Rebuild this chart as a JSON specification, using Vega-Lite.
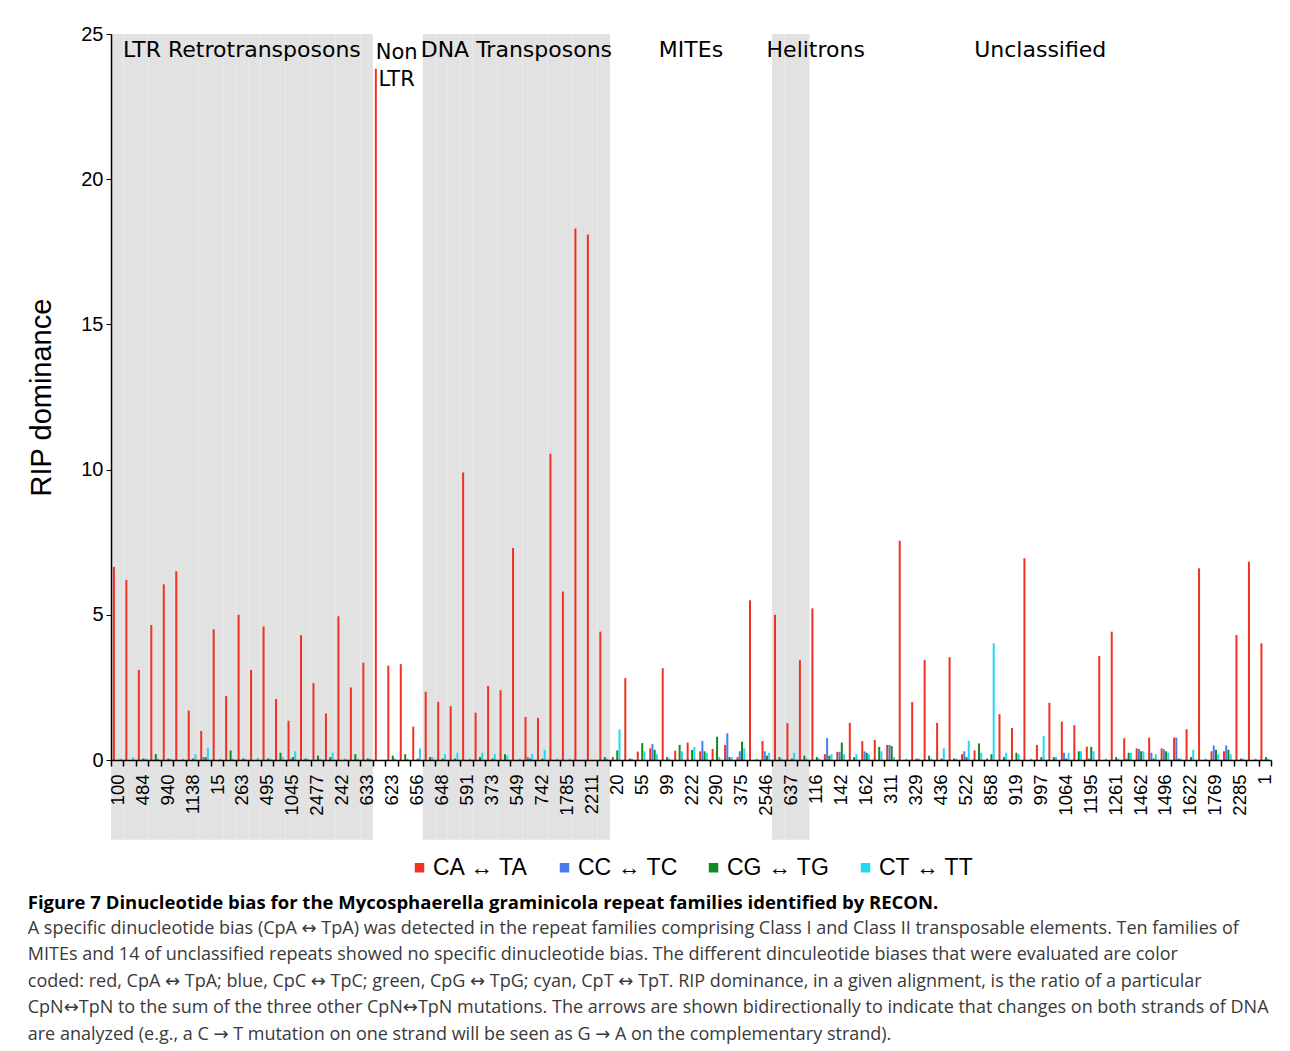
{
  "$schema": "https://vega.github.io/schema/vega-lite/v6.json",
  "width": 1160,
  "height": 726,
  "padding": {"left": 27, "top": 24, "right": 5, "bottom": 5},
  "background": "white",
  "config": {
    "view": {"stroke": null},
    "font": "Liberation Sans",
    "legend": {"layout": {"bottom": {"anchor": "middle"}}}
  },
  "title": {
    "text": "Figure 7 Dinucleotide bias for the Mycosphaerella graminicola repeat families identified by RECON.",
    "subtitle": [
      "A specific dinucleotide bias (CpA ↔ TpA) was detected in the repeat families comprising Class I and Class II transposable elements. Ten families of",
      "MITEs and 14 of unclassified repeats showed no specific dinucleotide bias. The different dinculeotide biases that were evaluated are color",
      "coded: red, CpA ↔ TpA; blue, CpC ↔ TpC; green, CpG ↔ TpG; cyan, CpT ↔ TpT. RIP dominance, in a given alignment, is the ratio of a particular",
      "CpN↔TpN to the sum of the three other CpN↔TpN mutations. The arrows are shown bidirectionally to indicate that changes on both strands of DNA",
      "are analyzed (e.g., a C → T mutation on one strand will be seen as G → A on the complementary strand)."
    ],
    "orient": "bottom",
    "anchor": "start",
    "font": "Open Sans, DejaVu Sans",
    "fontSize": 18.5,
    "fontWeight": "bold",
    "color": "black",
    "subtitleFont": "Open Sans, DejaVu Sans",
    "subtitleFontSize": 18,
    "subtitleColor": "#3a3a3a",
    "subtitleLineHeight": 26.5,
    "subtitlePadding": 7,
    "offset": 14
  },
  "datasets": {
    "families": [
      {"family": "100", "class": "LTR Retrotransposons", "CA ↔ TA": 6.65, "CC ↔ TC": 0, "CG ↔ TG": 0, "CT ↔ TT": 0.05},
      {"family": "u2", "class": "LTR Retrotransposons", "CA ↔ TA": 6.2, "CC ↔ TC": 0, "CG ↔ TG": 0, "CT ↔ TT": 0.1},
      {"family": "484", "class": "LTR Retrotransposons", "CA ↔ TA": 3.1, "CC ↔ TC": 0, "CG ↔ TG": 0.05, "CT ↔ TT": 0.05},
      {"family": "u4", "class": "LTR Retrotransposons", "CA ↔ TA": 4.65, "CC ↔ TC": 0, "CG ↔ TG": 0.2, "CT ↔ TT": 0.05},
      {"family": "940", "class": "LTR Retrotransposons", "CA ↔ TA": 6.05, "CC ↔ TC": 0, "CG ↔ TG": 0.05, "CT ↔ TT": 0.05},
      {"family": "u6", "class": "LTR Retrotransposons", "CA ↔ TA": 6.5, "CC ↔ TC": 0, "CG ↔ TG": 0, "CT ↔ TT": 0.05},
      {"family": "1138", "class": "LTR Retrotransposons", "CA ↔ TA": 1.7, "CC ↔ TC": 0, "CG ↔ TG": 0.05, "CT ↔ TT": 0.2},
      {"family": "u8", "class": "LTR Retrotransposons", "CA ↔ TA": 1.0, "CC ↔ TC": 0.1, "CG ↔ TG": 0.1, "CT ↔ TT": 0.42},
      {"family": "15", "class": "LTR Retrotransposons", "CA ↔ TA": 4.5, "CC ↔ TC": 0, "CG ↔ TG": 0, "CT ↔ TT": 0.05},
      {"family": "u10", "class": "LTR Retrotransposons", "CA ↔ TA": 2.2, "CC ↔ TC": 0, "CG ↔ TG": 0.33, "CT ↔ TT": 0.05},
      {"family": "263", "class": "LTR Retrotransposons", "CA ↔ TA": 5.0, "CC ↔ TC": 0, "CG ↔ TG": 0.05, "CT ↔ TT": 0.05},
      {"family": "u12", "class": "LTR Retrotransposons", "CA ↔ TA": 3.1, "CC ↔ TC": 0, "CG ↔ TG": 0, "CT ↔ TT": 0.08},
      {"family": "495", "class": "LTR Retrotransposons", "CA ↔ TA": 4.6, "CC ↔ TC": 0, "CG ↔ TG": 0.05, "CT ↔ TT": 0.05},
      {"family": "u14", "class": "LTR Retrotransposons", "CA ↔ TA": 2.1, "CC ↔ TC": 0, "CG ↔ TG": 0.25, "CT ↔ TT": 0.1},
      {"family": "1045", "class": "LTR Retrotransposons", "CA ↔ TA": 1.35, "CC ↔ TC": 0.05, "CG ↔ TG": 0.1, "CT ↔ TT": 0.3},
      {"family": "u16", "class": "LTR Retrotransposons", "CA ↔ TA": 4.3, "CC ↔ TC": 0, "CG ↔ TG": 0.05, "CT ↔ TT": 0.05},
      {"family": "2477", "class": "LTR Retrotransposons", "CA ↔ TA": 2.65, "CC ↔ TC": 0, "CG ↔ TG": 0.15, "CT ↔ TT": 0.05},
      {"family": "u18", "class": "LTR Retrotransposons", "CA ↔ TA": 1.6, "CC ↔ TC": 0, "CG ↔ TG": 0.1, "CT ↔ TT": 0.25},
      {"family": "242", "class": "LTR Retrotransposons", "CA ↔ TA": 4.95, "CC ↔ TC": 0, "CG ↔ TG": 0, "CT ↔ TT": 0.05},
      {"family": "u20", "class": "LTR Retrotransposons", "CA ↔ TA": 2.5, "CC ↔ TC": 0, "CG ↔ TG": 0.2, "CT ↔ TT": 0.05},
      {"family": "633", "class": "LTR Retrotransposons", "CA ↔ TA": 3.35, "CC ↔ TC": 0, "CG ↔ TG": 0.05, "CT ↔ TT": 0.05},
      {"family": "u22", "class": "Non LTR", "CA ↔ TA": 23.8, "CC ↔ TC": 0, "CG ↔ TG": 0, "CT ↔ TT": 0},
      {"family": "623", "class": "Non LTR", "CA ↔ TA": 3.25, "CC ↔ TC": 0, "CG ↔ TG": 0.15, "CT ↔ TT": 0.05},
      {"family": "u24", "class": "Non LTR", "CA ↔ TA": 3.3, "CC ↔ TC": 0, "CG ↔ TG": 0.2, "CT ↔ TT": 0.05},
      {"family": "656", "class": "Non LTR", "CA ↔ TA": 1.15, "CC ↔ TC": 0, "CG ↔ TG": 0.05, "CT ↔ TT": 0.4},
      {"family": "u26", "class": "DNA Transposons", "CA ↔ TA": 2.35, "CC ↔ TC": 0, "CG ↔ TG": 0.1, "CT ↔ TT": 0.1},
      {"family": "648", "class": "DNA Transposons", "CA ↔ TA": 2.0, "CC ↔ TC": 0, "CG ↔ TG": 0.05, "CT ↔ TT": 0.2},
      {"family": "u28", "class": "DNA Transposons", "CA ↔ TA": 1.85, "CC ↔ TC": 0, "CG ↔ TG": 0.05, "CT ↔ TT": 0.25},
      {"family": "591", "class": "DNA Transposons", "CA ↔ TA": 9.9, "CC ↔ TC": 0, "CG ↔ TG": 0, "CT ↔ TT": 0.05},
      {"family": "u30", "class": "DNA Transposons", "CA ↔ TA": 1.63, "CC ↔ TC": 0, "CG ↔ TG": 0.1, "CT ↔ TT": 0.25},
      {"family": "373", "class": "DNA Transposons", "CA ↔ TA": 2.55, "CC ↔ TC": 0, "CG ↔ TG": 0.05, "CT ↔ TT": 0.2},
      {"family": "u32", "class": "DNA Transposons", "CA ↔ TA": 2.4, "CC ↔ TC": 0, "CG ↔ TG": 0.2, "CT ↔ TT": 0.15},
      {"family": "549", "class": "DNA Transposons", "CA ↔ TA": 7.3, "CC ↔ TC": 0, "CG ↔ TG": 0, "CT ↔ TT": 0.05},
      {"family": "u34", "class": "DNA Transposons", "CA ↔ TA": 1.48, "CC ↔ TC": 0.1, "CG ↔ TG": 0.05, "CT ↔ TT": 0.2},
      {"family": "742", "class": "DNA Transposons", "CA ↔ TA": 1.45, "CC ↔ TC": 0, "CG ↔ TG": 0.05, "CT ↔ TT": 0.35},
      {"family": "u36", "class": "DNA Transposons", "CA ↔ TA": 10.55, "CC ↔ TC": 0, "CG ↔ TG": 0, "CT ↔ TT": 0.05},
      {"family": "1785", "class": "DNA Transposons", "CA ↔ TA": 5.8, "CC ↔ TC": 0, "CG ↔ TG": 0, "CT ↔ TT": 0.05},
      {"family": "u38", "class": "DNA Transposons", "CA ↔ TA": 18.3, "CC ↔ TC": 0, "CG ↔ TG": 0, "CT ↔ TT": 0},
      {"family": "2211", "class": "DNA Transposons", "CA ↔ TA": 18.1, "CC ↔ TC": 0, "CG ↔ TG": 0, "CT ↔ TT": 0},
      {"family": "u40", "class": "DNA Transposons", "CA ↔ TA": 4.42, "CC ↔ TC": 0, "CG ↔ TG": 0.1, "CT ↔ TT": 0.05},
      {"family": "20", "class": "MITEs", "CA ↔ TA": 0.1, "CC ↔ TC": 0, "CG ↔ TG": 0.33, "CT ↔ TT": 1.05},
      {"family": "u42", "class": "MITEs", "CA ↔ TA": 2.82, "CC ↔ TC": 0, "CG ↔ TG": 0.05, "CT ↔ TT": 0.05},
      {"family": "55", "class": "MITEs", "CA ↔ TA": 0.29, "CC ↔ TC": 0, "CG ↔ TG": 0.58, "CT ↔ TT": 0.3},
      {"family": "u44", "class": "MITEs", "CA ↔ TA": 0.4, "CC ↔ TC": 0.55, "CG ↔ TG": 0.35, "CT ↔ TT": 0.2},
      {"family": "99", "class": "MITEs", "CA ↔ TA": 3.16, "CC ↔ TC": 0, "CG ↔ TG": 0.1, "CT ↔ TT": 0.05},
      {"family": "u46", "class": "MITEs", "CA ↔ TA": 0.32, "CC ↔ TC": 0, "CG ↔ TG": 0.52, "CT ↔ TT": 0.3},
      {"family": "222", "class": "MITEs", "CA ↔ TA": 0.6, "CC ↔ TC": 0, "CG ↔ TG": 0.35, "CT ↔ TT": 0.45},
      {"family": "u48", "class": "MITEs", "CA ↔ TA": 0.3, "CC ↔ TC": 0.66, "CG ↔ TG": 0.3, "CT ↔ TT": 0.25},
      {"family": "290", "class": "MITEs", "CA ↔ TA": 0.38, "CC ↔ TC": 0, "CG ↔ TG": 0.8, "CT ↔ TT": 0.1},
      {"family": "u50", "class": "MITEs", "CA ↔ TA": 0.52, "CC ↔ TC": 0.92, "CG ↔ TG": 0.1, "CT ↔ TT": 0.1},
      {"family": "375", "class": "MITEs", "CA ↔ TA": 0.1, "CC ↔ TC": 0.3, "CG ↔ TG": 0.63, "CT ↔ TT": 0.4},
      {"family": "u52", "class": "MITEs", "CA ↔ TA": 5.5, "CC ↔ TC": 0, "CG ↔ TG": 0, "CT ↔ TT": 0.05},
      {"family": "2546", "class": "MITEs", "CA ↔ TA": 0.65, "CC ↔ TC": 0.3, "CG ↔ TG": 0.15, "CT ↔ TT": 0.25},
      {"family": "u54", "class": "Helitrons", "CA ↔ TA": 5.0, "CC ↔ TC": 0, "CG ↔ TG": 0.1, "CT ↔ TT": 0.05},
      {"family": "637", "class": "Helitrons", "CA ↔ TA": 1.27, "CC ↔ TC": 0, "CG ↔ TG": 0.05, "CT ↔ TT": 0.25},
      {"family": "u56", "class": "Helitrons", "CA ↔ TA": 3.44, "CC ↔ TC": 0, "CG ↔ TG": 0.15, "CT ↔ TT": 0.05},
      {"family": "116", "class": "Unclassified", "CA ↔ TA": 5.22, "CC ↔ TC": 0, "CG ↔ TG": 0.1, "CT ↔ TT": 0.05},
      {"family": "u58", "class": "Unclassified", "CA ↔ TA": 0.2, "CC ↔ TC": 0.75, "CG ↔ TG": 0.15, "CT ↔ TT": 0.2},
      {"family": "142", "class": "Unclassified", "CA ↔ TA": 0.28, "CC ↔ TC": 0.28, "CG ↔ TG": 0.6, "CT ↔ TT": 0.2},
      {"family": "u60", "class": "Unclassified", "CA ↔ TA": 1.28, "CC ↔ TC": 0, "CG ↔ TG": 0.1, "CT ↔ TT": 0.2},
      {"family": "162", "class": "Unclassified", "CA ↔ TA": 0.65, "CC ↔ TC": 0.3, "CG ↔ TG": 0.25, "CT ↔ TT": 0.2},
      {"family": "u62", "class": "Unclassified", "CA ↔ TA": 0.69, "CC ↔ TC": 0, "CG ↔ TG": 0.45, "CT ↔ TT": 0.3},
      {"family": "311", "class": "Unclassified", "CA ↔ TA": 0.52, "CC ↔ TC": 0.52, "CG ↔ TG": 0.48, "CT ↔ TT": 0.1},
      {"family": "u64", "class": "Unclassified", "CA ↔ TA": 7.55, "CC ↔ TC": 0, "CG ↔ TG": 0, "CT ↔ TT": 0.05},
      {"family": "329", "class": "Unclassified", "CA ↔ TA": 2.0, "CC ↔ TC": 0, "CG ↔ TG": 0.05, "CT ↔ TT": 0.05},
      {"family": "u66", "class": "Unclassified", "CA ↔ TA": 3.44, "CC ↔ TC": 0, "CG ↔ TG": 0.15, "CT ↔ TT": 0.05},
      {"family": "436", "class": "Unclassified", "CA ↔ TA": 1.28, "CC ↔ TC": 0, "CG ↔ TG": 0.05, "CT ↔ TT": 0.4},
      {"family": "u68", "class": "Unclassified", "CA ↔ TA": 3.54, "CC ↔ TC": 0, "CG ↔ TG": 0.05, "CT ↔ TT": 0.05},
      {"family": "522", "class": "Unclassified", "CA ↔ TA": 0.2, "CC ↔ TC": 0.3, "CG ↔ TG": 0.1, "CT ↔ TT": 0.66},
      {"family": "u70", "class": "Unclassified", "CA ↔ TA": 0.33, "CC ↔ TC": 0, "CG ↔ TG": 0.57, "CT ↔ TT": 0.25},
      {"family": "858", "class": "Unclassified", "CA ↔ TA": 0.05, "CC ↔ TC": 0, "CG ↔ TG": 0.2, "CT ↔ TT": 4.02},
      {"family": "u72", "class": "Unclassified", "CA ↔ TA": 1.58, "CC ↔ TC": 0, "CG ↔ TG": 0.1, "CT ↔ TT": 0.25},
      {"family": "919", "class": "Unclassified", "CA ↔ TA": 1.1, "CC ↔ TC": 0, "CG ↔ TG": 0.25, "CT ↔ TT": 0.2},
      {"family": "u74", "class": "Unclassified", "CA ↔ TA": 6.95, "CC ↔ TC": 0, "CG ↔ TG": 0, "CT ↔ TT": 0.05},
      {"family": "997", "class": "Unclassified", "CA ↔ TA": 0.52, "CC ↔ TC": 0, "CG ↔ TG": 0.1, "CT ↔ TT": 0.83},
      {"family": "u76", "class": "Unclassified", "CA ↔ TA": 1.97, "CC ↔ TC": 0, "CG ↔ TG": 0.1, "CT ↔ TT": 0.1},
      {"family": "1064", "class": "Unclassified", "CA ↔ TA": 1.32, "CC ↔ TC": 0.25, "CG ↔ TG": 0.05, "CT ↔ TT": 0.25},
      {"family": "u78", "class": "Unclassified", "CA ↔ TA": 1.2, "CC ↔ TC": 0, "CG ↔ TG": 0.3, "CT ↔ TT": 0.3},
      {"family": "1195", "class": "Unclassified", "CA ↔ TA": 0.46, "CC ↔ TC": 0.05, "CG ↔ TG": 0.45, "CT ↔ TT": 0.3},
      {"family": "u80", "class": "Unclassified", "CA ↔ TA": 3.58, "CC ↔ TC": 0, "CG ↔ TG": 0, "CT ↔ TT": 0.05},
      {"family": "1261", "class": "Unclassified", "CA ↔ TA": 4.42, "CC ↔ TC": 0, "CG ↔ TG": 0.1, "CT ↔ TT": 0.05},
      {"family": "u82", "class": "Unclassified", "CA ↔ TA": 0.75, "CC ↔ TC": 0.05, "CG ↔ TG": 0.25, "CT ↔ TT": 0.25},
      {"family": "1462", "class": "Unclassified", "CA ↔ TA": 0.4, "CC ↔ TC": 0.38, "CG ↔ TG": 0.3, "CT ↔ TT": 0.3},
      {"family": "u84", "class": "Unclassified", "CA ↔ TA": 0.77, "CC ↔ TC": 0.25, "CG ↔ TG": 0.05, "CT ↔ TT": 0.2},
      {"family": "1496", "class": "Unclassified", "CA ↔ TA": 0.4, "CC ↔ TC": 0.37, "CG ↔ TG": 0.3, "CT ↔ TT": 0.25},
      {"family": "u86", "class": "Unclassified", "CA ↔ TA": 0.77, "CC ↔ TC": 0.77, "CG ↔ TG": 0.05, "CT ↔ TT": 0.05},
      {"family": "1622", "class": "Unclassified", "CA ↔ TA": 1.06, "CC ↔ TC": 0, "CG ↔ TG": 0.1, "CT ↔ TT": 0.35},
      {"family": "u88", "class": "Unclassified", "CA ↔ TA": 6.6, "CC ↔ TC": 0, "CG ↔ TG": 0, "CT ↔ TT": 0.05},
      {"family": "1769", "class": "Unclassified", "CA ↔ TA": 0.3, "CC ↔ TC": 0.5, "CG ↔ TG": 0.35, "CT ↔ TT": 0.2},
      {"family": "u90", "class": "Unclassified", "CA ↔ TA": 0.3, "CC ↔ TC": 0.5, "CG ↔ TG": 0.35, "CT ↔ TT": 0.2},
      {"family": "2285", "class": "Unclassified", "CA ↔ TA": 4.3, "CC ↔ TC": 0, "CG ↔ TG": 0.05, "CT ↔ TT": 0.05},
      {"family": "u92", "class": "Unclassified", "CA ↔ TA": 6.83, "CC ↔ TC": 0, "CG ↔ TG": 0, "CT ↔ TT": 0.05},
      {"family": "1", "class": "Unclassified", "CA ↔ TA": 4.02, "CC ↔ TC": 0, "CG ↔ TG": 0.1, "CT ↔ TT": 0.05}
    ],
    "sections": [
      {"section": "LTR Retrotransposons", "family": "263"},
      {"section": "Non\nLTR", "family": "623"},
      {"section": "DNA Transposons", "family": "549"},
      {"section": "MITEs", "family": "222"},
      {"section": "Helitrons", "family": "116"},
      {"section": "Unclassified", "family": "997"}
    ]
  },
  "data": {"name": "families"},
  "layer": [
    {
      "mark": {"type": "bar", "color": "#e2e2e2"},
      "encoding": {
        "x": {
          "field": "family",
          "type": "nominal",
          "sort": null,
          "scale": {"paddingInner": 0, "paddingOuter": 0},
          "axis": {
            "title": null,
            "labelAngle": -90,
            "labelFontSize": 18.5,
            "labelFont": "Liberation Sans",
            "labelColor": "black",
            "labelPadding": 8,
            "labelOverlap": false,
            "labelExpr": "test(/^u/, datum.value) ? '' : datum.value",
            "tickBand": "extent",
            "tickColor": "black",
            "tickSize": 6,
            "tickWidth": 1.5,
            "domainColor": "black",
            "domainWidth": 1.5,
            "zindex": 1
          }
        },
        "y": {
          "datum": 25,
          "type": "quantitative",
          "scale": {"domain": [0, 25], "nice": false},
          "axis": {
            "values": [0, 5, 10, 15, 20, 25],
            "title": "RIP dominance",
            "titleFont": "Liberation Sans",
            "titleFontSize": 29,
            "titleFontWeight": "normal",
            "titleColor": "black",
            "titlePadding": 24,
            "labelFont": "Liberation Sans",
            "labelFontSize": 20,
            "labelColor": "black",
            "labelPadding": 3,
            "tickColor": "black",
            "tickSize": 5,
            "domainColor": "black",
            "domainWidth": 1.5,
            "grid": false,
            "zindex": 1
          }
        },
        "y2": {"datum": -2.75},
        "opacity": {
          "condition": {"test": "datum['class'] === 'LTR Retrotransposons' || datum['class'] === 'DNA Transposons' || datum['class'] === 'Helitrons'", "value": 1},
          "value": 0
        }
      }
    },
    {
      "transform": [{"fold": ["CA ↔ TA", "CC ↔ TC", "CG ↔ TG", "CT ↔ TT"], "as": ["pair", "rip"]}],
      "mark": {"type": "bar"},
      "encoding": {
        "x": {"field": "family", "type": "nominal", "sort": null},
        "xOffset": {"field": "pair", "type": "nominal", "sort": null, "scale": {"paddingInner": 0.1, "paddingOuter": 0.85}},
        "y": {"field": "rip", "type": "quantitative"},
        "color": {
          "field": "pair",
          "type": "nominal",
          "sort": null,
          "scale": {"domain": ["CA ↔ TA", "CC ↔ TC", "CG ↔ TG", "CT ↔ TT"], "range": ["#ee3326", "#4a7cf0", "#14891f", "#22d8f3"]},
          "legend": {
            "orient": "bottom",
            "direction": "horizontal",
            "title": null,
            "symbolType": "square",
            "symbolSize": 90,
            "symbolStrokeWidth": 0,
            "labelFont": "Liberation Sans",
            "labelFontSize": 23,
            "labelColor": "black",
            "labelOffset": 2,
            "columnPadding": 24,
            "offset": 40
          }
        }
      }
    },
    {
      "data": {"name": "sections"},
      "transform": [{"filter": "datum.section !== 'Non\\nLTR'"}],
      "mark": {"type": "text", "font": "DejaVu Sans", "fontSize": 22, "baseline": "top", "align": "center", "dy": 6, "color": "black"},
      "encoding": {
        "x": {"field": "family", "type": "nominal", "sort": null},
        "y": {"datum": 25, "type": "quantitative"},
        "text": {"field": "section"}
      }
    },
    {
      "data": {"name": "sections"},
      "transform": [{"filter": "datum.section === 'Non\\nLTR'"}],
      "mark": {"type": "text", "font": "DejaVu Sans", "fontSize": 21, "baseline": "top", "align": "center", "dy": 8, "dx": 5, "lineBreak": "\n", "lineHeight": 27, "color": "black"},
      "encoding": {
        "x": {"field": "family", "type": "nominal", "sort": null},
        "y": {"datum": 25, "type": "quantitative"},
        "text": {"field": "section"}
      }
    }
  ]
}
